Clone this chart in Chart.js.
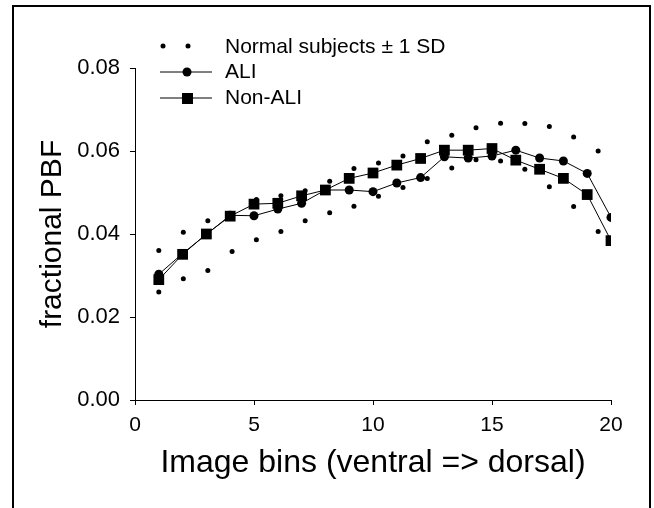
<!DOCTYPE html>
<html>
<head>
<meta charset="utf-8">
<script src="https://cdn.jsdelivr.net/npm/chart.js@4"></script>
<style>
  html, body { margin: 0; padding: 0; background: #fff; }
  #wrap { width: 654px; height: 508px; }
</style>
</head>
<body>
<div id="wrap"><canvas id="pbfChart" width="654" height="508"></canvas></div>
<script>
// image bins (x) and fractional PBF
const bins = [1, 2, 3, 4, 5, 6, 7, 8, 9, 10, 11, 12, 13, 14, 15, 16, 17, 18, 19, 20];
const aliPBF = [0.0303, 0.0353, 0.0399, 0.0445, 0.0444, 0.0460, 0.0474, 0.0506, 0.0506, 0.0502,
                0.0523, 0.0536, 0.0586, 0.0583, 0.0588, 0.0602, 0.0583, 0.0576, 0.0546, 0.0440];
const nonAliPBF = [0.0290, 0.0351, 0.0400, 0.0443, 0.0472, 0.0474, 0.0492, 0.0506, 0.0534, 0.0547,
                   0.0566, 0.0582, 0.0602, 0.0602, 0.0606, 0.0578, 0.0556, 0.0534, 0.0495, 0.0384];

// normal subjects +/- 1 SD (dots sit slightly right of the bin centres in the figure)
const normalBins = [1.0, 2.03, 3.06, 4.08, 5.1, 6.13, 7.15, 8.18, 9.2, 10.23,
                    11.26, 12.28, 13.31, 14.33, 15.36, 16.38, 17.41, 18.43, 19.46];
const normalUpper = [0.0360, 0.0404, 0.0432, 0.0448, 0.0483, 0.0492, 0.0504, 0.0527, 0.0558, 0.0571,
                     0.0588, 0.0622, 0.0638, 0.0656, 0.0667, 0.0666, 0.0659, 0.0634, 0.0600];
const normalLower = [0.0260, 0.0292, 0.0312, 0.0358, 0.0386, 0.0406, 0.0432, 0.0451, 0.0467, 0.0491,
                     0.0512, 0.0534, 0.0559, 0.0579, 0.0576, 0.0556, 0.0514, 0.0466, 0.0406];

const xTicks = [0, 5, 10, 15, 20];
const yTicks = [0.00, 0.02, 0.04, 0.06, 0.08];

const seriesLabels = ["Normal subjects \u00B1 1 SD", "ALI", "Non-ALI"];

const FONT = "'Liberation Sans', Arial, Helvetica, sans-serif";
Chart.defaults.font.family = FONT;
Chart.defaults.color = "#000";

const toPts = (xs, ys) => xs.map((x, i) => ({ x: x, y: ys[i] }));

// outer box around the figure (runs off the bottom edge like the scan)
const framePlugin = {
  id: "frame",
  beforeDraw(chart) {
    const ctx = chart.ctx;
    ctx.save();
    ctx.fillStyle = "#fff";
    ctx.fillRect(0, 0, chart.width, chart.height);
    ctx.strokeStyle = "#000";
    ctx.lineWidth = 2;
    ctx.strokeRect(13, 6, 637, 520);
    ctx.restore();
  }
};

// legend drawn in the same style as the original figure
const legendPlugin = {
  id: "figLegend",
  afterDraw(chart) {
    const ctx = chart.ctx;
    const ds = chart.data.datasets;
    ctx.save();
    ctx.fillStyle = "#000";
    ctx.strokeStyle = "#000";
    ctx.lineWidth = 1;
    ctx.font = "21px " + FONT;
    ctx.textBaseline = "middle";

    // row 1: two dots
    let y = 46;
    [163, 188].forEach(x => {
      ctx.beginPath();
      ctx.arc(x, y, 2.5, 0, Math.PI * 2);
      ctx.fill();
    });
    ctx.fillText(ds[0].label, 225, y + 1);

    // row 2: line + circle
    y = 72;
    ctx.beginPath();
    ctx.moveTo(160, y); ctx.lineTo(212, y);
    ctx.stroke();
    ctx.beginPath();
    ctx.arc(187, y, 4.5, 0, Math.PI * 2);
    ctx.fill();
    ctx.fillText(ds[2].label, 225, y);

    // row 3: line + square
    y = 98;
    ctx.beginPath();
    ctx.moveTo(160, y); ctx.lineTo(212, y);
    ctx.stroke();
    ctx.fillRect(182, y - 5, 11, 11);
    ctx.fillText(ds[3].label, 225, y);
    ctx.restore();
  }
};

const ctx = document.getElementById("pbfChart").getContext("2d");
new Chart(ctx, {
  type: "scatter",
  data: {
    datasets: [
      {
        label: seriesLabels[0],
        data: toPts(normalBins, normalUpper),
        showLine: false,
        pointStyle: "circle",
        pointRadius: 2.5,
        backgroundColor: "#000",
        borderWidth: 0
      },
      {
        label: seriesLabels[0],
        data: toPts(normalBins, normalLower),
        showLine: false,
        pointStyle: "circle",
        pointRadius: 2.5,
        backgroundColor: "#000",
        borderWidth: 0
      },
      {
        label: seriesLabels[1],
        data: toPts(bins, aliPBF),
        showLine: true,
        borderColor: "#000",
        borderWidth: 1,
        pointStyle: "circle",
        pointRadius: 4.5,
        pointBackgroundColor: "#000",
        pointBorderWidth: 0
      },
      {
        label: seriesLabels[2],
        data: toPts(bins, nonAliPBF),
        showLine: true,
        borderColor: "#000",
        borderWidth: 1,
        pointStyle: "rect",
        pointRadius: 7.6,
        pointBackgroundColor: "#000",
        pointBorderWidth: 0
      }
    ]
  },
  options: {
    responsive: false,
    animation: false,
    layout: { padding: { top: 68, right: 43, left: 0, bottom: 0 } },
    plugins: {
      legend: { display: false },
      tooltip: { enabled: false }
    },
    scales: {
      x: {
        type: "linear",
        min: 0,
        max: 20,
        afterBuildTicks: s => { s.ticks = xTicks.map(v => ({ value: v })); },
        afterFit: s => { s.height = 108; },
        grid: { drawOnChartArea: false, drawTicks: true, tickLength: 5, color: "#000" },
        border: { display: true, color: "#000", width: 1 },
        ticks: {
          color: "#000",
          padding: 8,
          maxRotation: 0,
          font: { size: 21 },
          callback: v => String(v)
        },
        title: {
          display: true,
          text: "Image bins (ventral => dorsal)",
          color: "#000",
          font: { size: 32 },
          padding: { top: 0, bottom: 26 }
        }
      },
      y: {
        type: "linear",
        min: 0,
        max: 0.08,
        afterBuildTicks: s => { s.ticks = yTicks.map(v => ({ value: v })); },
        afterFit: s => { s.width = 135; },
        grid: { drawOnChartArea: false, drawTicks: true, tickLength: 5, color: "#000" },
        border: { display: true, color: "#000", width: 1 },
        ticks: {
          color: "#000",
          padding: 10,
          font: { size: 22 },
          callback: v => v.toFixed(2)
        },
        title: {
          display: true,
          text: "fractional PBF",
          color: "#000",
          font: { size: 30 },
          padding: { top: 35, bottom: 0 }
        }
      }
    }
  },
  plugins: [framePlugin, legendPlugin]
});
</script>
</body>
</html>
